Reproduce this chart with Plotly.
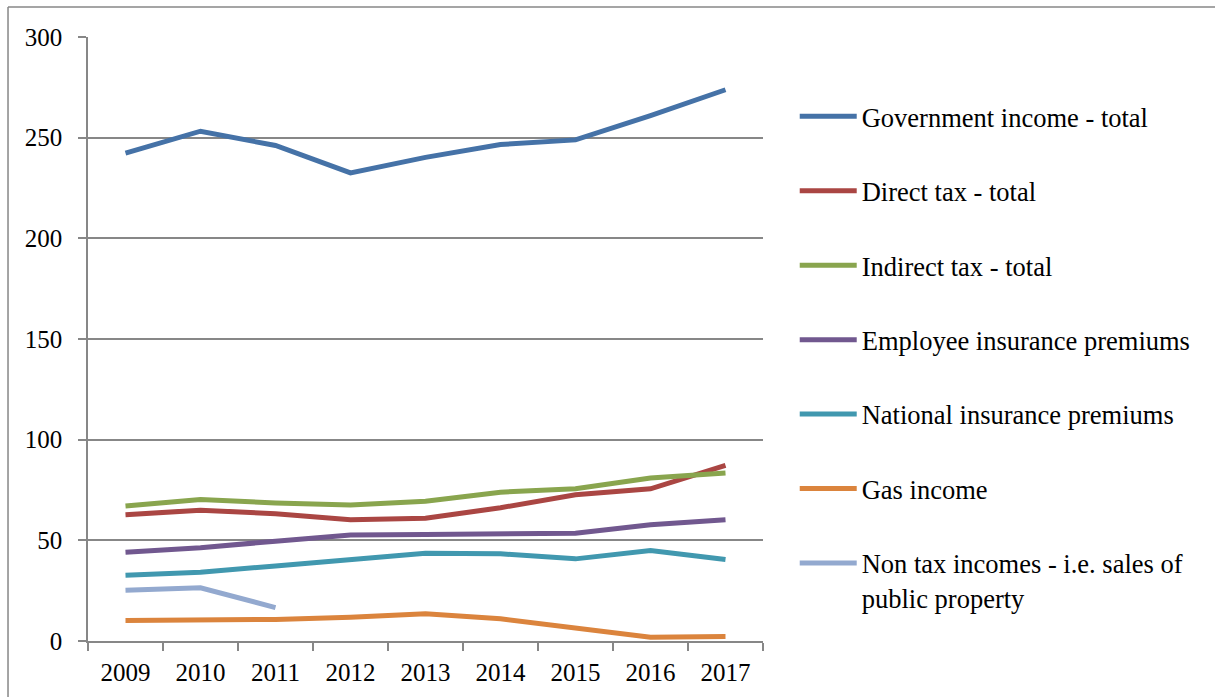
import plotly.graph_objects as go

years = ["2009", "2010", "2011", "2012", "2013", "2014", "2015", "2016", "2017"]

government_total = [242.3, 253.2, 246.1, 232.5, 240.2, 246.6, 248.9, 261.0, 273.8]
direct_tax = [62.7, 65.0, 63.2, 60.2, 61.0, 66.2, 72.6, 75.6, 87.2]
indirect_tax = [67.0, 70.3, 68.6, 67.6, 69.4, 73.9, 75.6, 81.0, 83.4]
employee_premiums = [44.1, 46.3, 49.6, 52.6, 52.9, 52.9, 53.5, 57.7, 60.2]
national_premiums = [32.7, 34.2, 37.3, 40.3, 43.6, 43.3, 40.8, 45.0, 40.5]
gas_income = [10.2, 10.2, 10.7, 11.8, 13.5, 11.0, 6.4, 1.9, 2.2]
non_tax_income = [25.2, 26.4, 16.6, None, None, None, None, None, None]

series = [
    ("Government income - total", government_total, "#4572A7"),
    ("Direct tax - total", direct_tax, "#AA4643"),
    ("Indirect tax - total", indirect_tax, "#89A54E"),
    ("Employee insurance premiums", employee_premiums, "#71588F"),
    ("National insurance premiums", national_premiums, "#4198AF"),
    ("Gas income", gas_income, "#DB843D"),
    ("Non tax incomes - i.e. sales of<br>public property", non_tax_income, "#93A9CF"),
]

FONT = "Times New Roman, Liberation Serif, Tinos, DejaVu Serif, serif"
AXIS_GREY = "#878787"

fig = go.Figure()
for i, (name, values, color) in enumerate(series):
    fig.add_trace(go.Scatter(
        x=years, y=values, name=name, mode="lines",
        line=dict(color=color, width=5),
        legendgroup=f"g{i}", connectgaps=False,
    ))

fig.update_layout(
    width=1215, height=697,
    margin=dict(l=88, r=452, t=37, b=56),
    paper_bgcolor="white", plot_bgcolor="white",
    font=dict(family=FONT, size=25, color="black"),
    showlegend=True,
    legend=dict(
        x=1.047, xanchor="left", y=0.908, yanchor="top",
        font=dict(family=FONT, size=26.5, color="black"),
        traceorder="grouped", tracegroupgap=37,
        itemwidth=57, valign="top",
        bgcolor="rgba(0,0,0,0)",
    ),
    xaxis=dict(
        type="category", range=[-0.5, 8.5],
        showgrid=False, showline=True, linecolor=AXIS_GREY, linewidth=1.5,
        ticks="outside", tickson="boundaries", ticklen=8,
        tickcolor=AXIS_GREY, tickwidth=1.5,
        ticklabelstandoff=8,
        tickfont=dict(family=FONT, size=25, color="black"),
    ),
    yaxis=dict(
        range=[0, 300], dtick=50, tick0=0,
        showgrid=True, gridcolor=AXIS_GREY, gridwidth=1.5,
        showline=True, linecolor=AXIS_GREY, linewidth=1.5,
        ticks="outside", ticklen=8, tickcolor=AXIS_GREY, tickwidth=1.5,
        zeroline=False,
        ticklabelstandoff=11,
        tickfont=dict(family=FONT, size=25, color="black"),
    ),
    shapes=[
        # outer chart-area frame: left and top edges
        dict(type="line", xref="paper", yref="paper",
             x0=-0.1185, x1=-0.1185, y0=1.0497, y1=-0.2,
             line=dict(color=AXIS_GREY, width=1.5)),
        dict(type="line", xref="paper", yref="paper",
             x0=-0.1185, x1=1.8, y0=1.0497, y1=1.0497,
             line=dict(color=AXIS_GREY, width=1.5)),
    ],
)

fig.write_html("out.html")
